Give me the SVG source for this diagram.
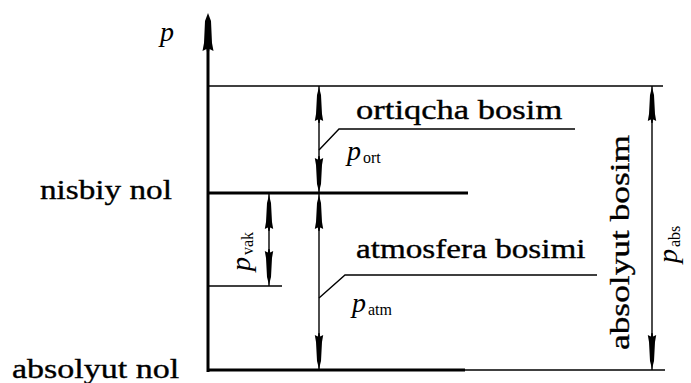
<svg xmlns="http://www.w3.org/2000/svg" width="691" height="383" viewBox="0 0 691 383">
<defs>
<style>
.thick{stroke:#000;stroke-width:3;fill:none}
.thin{stroke:#000;stroke-width:1.4;fill:none}
text{font-family:'Liberation Serif','Times New Roman',serif;fill:#000}
.lbl{font-size:27px;stroke:#000;stroke-width:0.35}
.pi{font-style:italic;font-size:28px}
.sub{font-size:16px}
</style>
<path id="ah" d="M0,0 L2,8 L3,27 L4.2,34 L1.2,32.5 L0.6,36 L-0.6,36 L-1.2,32.5 L-4.2,34 L-3,27 L-2,8 Z" fill="#000"/>
<path id="ahBig" d="M0,0 L3,8 L4,30 L5.5,38 L1.5,36 L0.8,40 L-0.8,40 L-1.5,36 L-5.5,38 L-4,30 L-3,8 Z" fill="#000"/>
</defs>

<g id="connectors">
<line class="thick" x1="208" y1="20" x2="208" y2="372"/>
<use href="#ahBig" x="208" y="13"/>
<line class="thin" x1="208" y1="86" x2="663" y2="86"/>
<line class="thick" x1="208" y1="193" x2="468" y2="193"/>
<line class="thin" x1="208" y1="286" x2="282" y2="286"/>
<line class="thick" x1="208" y1="370" x2="465" y2="370"/>
<line class="thin" x1="465" y1="370" x2="665" y2="370"/>

<line class="thin" x1="319" y1="86" x2="319" y2="193"/>
<use href="#ah" transform="translate(319,87)"/>
<use href="#ah" transform="translate(319,192) rotate(180)"/>

<line class="thin" x1="319" y1="193" x2="319" y2="370"/>
<use href="#ah" transform="translate(319,195)"/>
<use href="#ah" transform="translate(319,369) rotate(180)"/>

<line class="thin" x1="269" y1="193" x2="269" y2="286"/>
<use href="#ah" transform="translate(269,195)"/>
<use href="#ah" transform="translate(269,285) rotate(180)"/>

<line class="thin" x1="652" y1="86" x2="652" y2="370"/>
<use href="#ah" transform="translate(652,87)"/>
<use href="#ah" transform="translate(652,369) rotate(180)"/>

<polyline class="thin" points="319,150 339,129 575,129"/>
<polyline class="thin" points="319,298 345,275 597,275"/>
</g>

<g id="axis-label">
<text class="pi" x="160" y="41">p</text>
</g>
<g id="nisbiy-nol">
<text class="lbl" transform="translate(40,199) scale(1.23,1)">nisbiy nol</text>
</g>
<g id="absolyut-nol">
<text class="lbl" transform="translate(12,378) scale(1.26,1)">absolyut nol</text>
</g>
<g id="ortiqcha">
<text class="lbl" transform="translate(356,119) scale(1.28,1)">ortiqcha bosim</text>
<text class="pi" x="347" y="160">p</text><text class="sub" x="363" y="163">ort</text>
</g>
<g id="atmosfera">
<text class="lbl" transform="translate(356,258) scale(1.23,1)">atmosfera bosimi</text>
<text class="pi" x="352" y="312">p</text><text class="sub" x="368" y="315">atm</text>
</g>
<g id="vak">
<g transform="translate(250,271) rotate(-90)">
<text class="pi" x="0" y="0">p</text><text class="sub" x="16" y="3">vak</text>
</g>
</g>
<g id="absolyut-bosim">
<text class="lbl" transform="translate(629,350) rotate(-90) scale(1.31,1)">absolyut bosim</text>
</g>
<g id="abs">
<g transform="translate(677,263) rotate(-90)">
<text class="pi" x="0" y="0">p</text><text class="sub" x="16" y="3">abs</text>
</g>
</g>
</svg>
